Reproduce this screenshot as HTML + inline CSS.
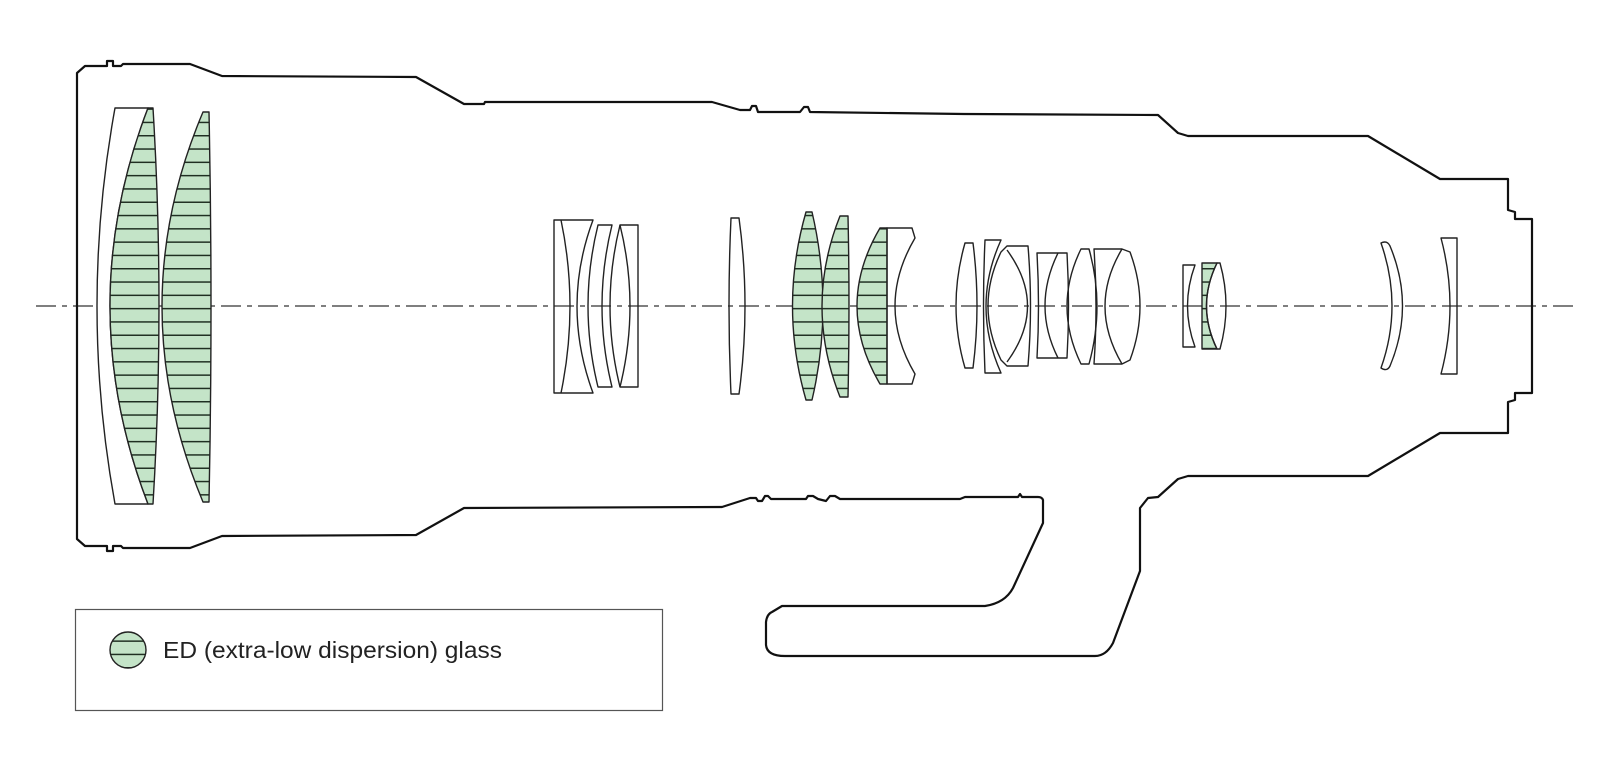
<!DOCTYPE html>
<html><head><meta charset="utf-8"><style>html,body{margin:0;padding:0;background:#fff}svg{display:block}</style></head>
<body>
<svg width="1600" height="767" viewBox="0 0 1600 767" xmlns="http://www.w3.org/2000/svg">
<defs>
<pattern id="h" patternUnits="userSpaceOnUse" width="20" height="13.3" y="2">
<rect width="20" height="13.3" fill="#c4e4c8"/>
<line x1="0" y1="0.7" x2="20" y2="0.7" stroke="#1f2f22" stroke-width="1.6"/>
</pattern>
</defs>
<rect width="1600" height="767" fill="#fff"/>
<line x1="36" y1="306" x2="1574" y2="306" stroke="#555" stroke-width="1.4" stroke-dasharray="20 6 5 6"/>
<path fill="none" stroke="#111" stroke-width="2.2" stroke-linejoin="round" d="M77,73 L85,66 L107,66 L107,61 L113,61 L113,66 L121,66 L123,64 L190,64 L222,76 L416,77 L464,104 L484,104 L485,102 L712,102 L740,110 L750,110 L752,106 L756,106 L758,112 L800,112 L804,107 L808,107 L810,112 L964,114 L1158,115 L1178,133 L1188,136 L1368,136 L1440,179 L1508,179 L1508,210 L1515,212 L1515,219 L1532,219 L1532,393 L1515,393 L1515,400 L1508,402 L1508,433 L1440,433 L1368,476 L1188,476 L1178,479 L1158,497 L1148,498 L1140,508 L1140,571 L1113,643 Q1106,656 1095,656 L785,656 Q767,656 766,645 L766,622 Q767,614 772,612 L782,606 L985,606 Q1005,603 1013,588 L1043,523 L1043,500 Q1042,497 1038,497 L1022,497 L1020,494 L1018,497 L965,497 L960,499 L840,499 L835,496 L830,496 L826,501 L818,499 L813,496 L808,496 L806,499 L771,499 L768,496 L765,496 L762,501 L758,501 L756,498 L750,498 L722,507 L464,508 L416,535 L222,536 L190,548 L123,548 L121,546 L113,546 L113,551 L107,551 L107,546 L85,546 L77,539 Z"/>
<g stroke="#222" stroke-width="1.4" stroke-linejoin="round">
<path fill="#fff" d="M115,108 L148,108 Q72,306 148,504 L115,504 Q79,306 115,108 Z"/>
<path fill="url(#h)" d="M148,108 L153,108 Q165,306 153,504 L148,504 Q72,306 148,108 Z"/>
<path fill="url(#h)" d="M203,112 L209,112 Q213,306 209,502 L203,502 Q121,306 203,112 Z"/>
<path fill="none" d="M554,220 L593,220 Q561,306 593,393 L554,393 Z"/>
<path fill="none" d="M561,220 Q579,306 561,393"/>
<path fill="none" d="M598,225 L612,225 Q592,306 612,387 L598,387 Q578,306 598,225 Z"/>
<path fill="none" d="M620,225 L638,225 L638,387 L620,387 Q600,306 620,225 Z"/>
<path fill="none" d="M620,225 Q640,306 620,387"/>
<path fill="none" d="M731,218 L739,218 Q751,306 739,394 L731,394 Q727,306 731,218 Z"/>
<path fill="url(#h)" d="M806,212 L812,212 Q834,306 812,400 L806,400 Q779,306 806,212 Z"/>
<path fill="url(#h)" d="M840,216 L848,216 Q850,306 848,397 L840,397 Q804,306 840,216 Z"/>
<path fill="url(#h)" d="M880,228 L887,228 L887,384 L880,384 Q834,306 880,228 Z"/>
<path fill="none" d="M887,228 L912,228 L915,238 Q875,306 915,374 L912,384 L887,384 Z"/>
<path fill="none" d="M965,243 L973,243 Q981,306 973,368 L965,368 Q947,306 965,243 Z"/>
<path fill="none" d="M985,240 L1001,240 Q971,306 1001,373 L985,373 Q982,306 985,240 Z"/>
<path fill="none" d="M1007,246 L1028,246 Q1033,306 1028,366 L1007,366 L1001,360 Q975,306 1001,252 Z"/>
<path fill="none" d="M1007,250 Q1048,306 1007,362"/>
<path fill="none" d="M1037,253 L1067,253 Q1070,306 1067,358 L1037,358 Q1040,306 1037,253 Z"/>
<path fill="none" d="M1058,253 Q1032,306 1058,358"/>
<path fill="none" d="M1081,249 L1089,249 Q1105,306 1089,364 L1081,364 Q1053,306 1081,249 Z"/>
<path fill="none" d="M1094,249 L1122,249 L1130,252 Q1150,306 1130,360 L1122,364 L1094,364 Q1098,306 1094,249 Z"/>
<path fill="none" d="M1122,249 Q1088,306 1122,364"/>
<path fill="none" d="M1183,265 L1195,265 Q1180,306 1195,347 L1183,347 Z"/>
<path fill="url(#h)" d="M1202,263 L1217,263 Q1196,306 1217,349 L1202,349 Z"/>
<path fill="none" d="M1217,263 L1220,263 Q1232,306 1220,349 L1217,349 Q1196,306 1217,263 Z"/>
<path fill="none" d="M1381,243 Q1387,240 1390,246 Q1415,306 1390,366 Q1387,372 1381,368 Q1403,306 1381,243 Z"/>
<path fill="none" d="M1441,238 L1457,238 L1457,374 L1441,374 Q1459,306 1441,238 Z"/>
</g>
<rect x="75.5" y="609.5" width="587" height="101" fill="none" stroke="#555" stroke-width="1.2"/>
<circle cx="128" cy="650" r="18" fill="url(#h)" stroke="#222" stroke-width="1.4"/>
<text x="163" y="658" font-family="Liberation Sans, sans-serif" font-size="23" fill="#222" textLength="339" lengthAdjust="spacingAndGlyphs">ED (extra-low dispersion) glass</text>
</svg>
</body></html>
